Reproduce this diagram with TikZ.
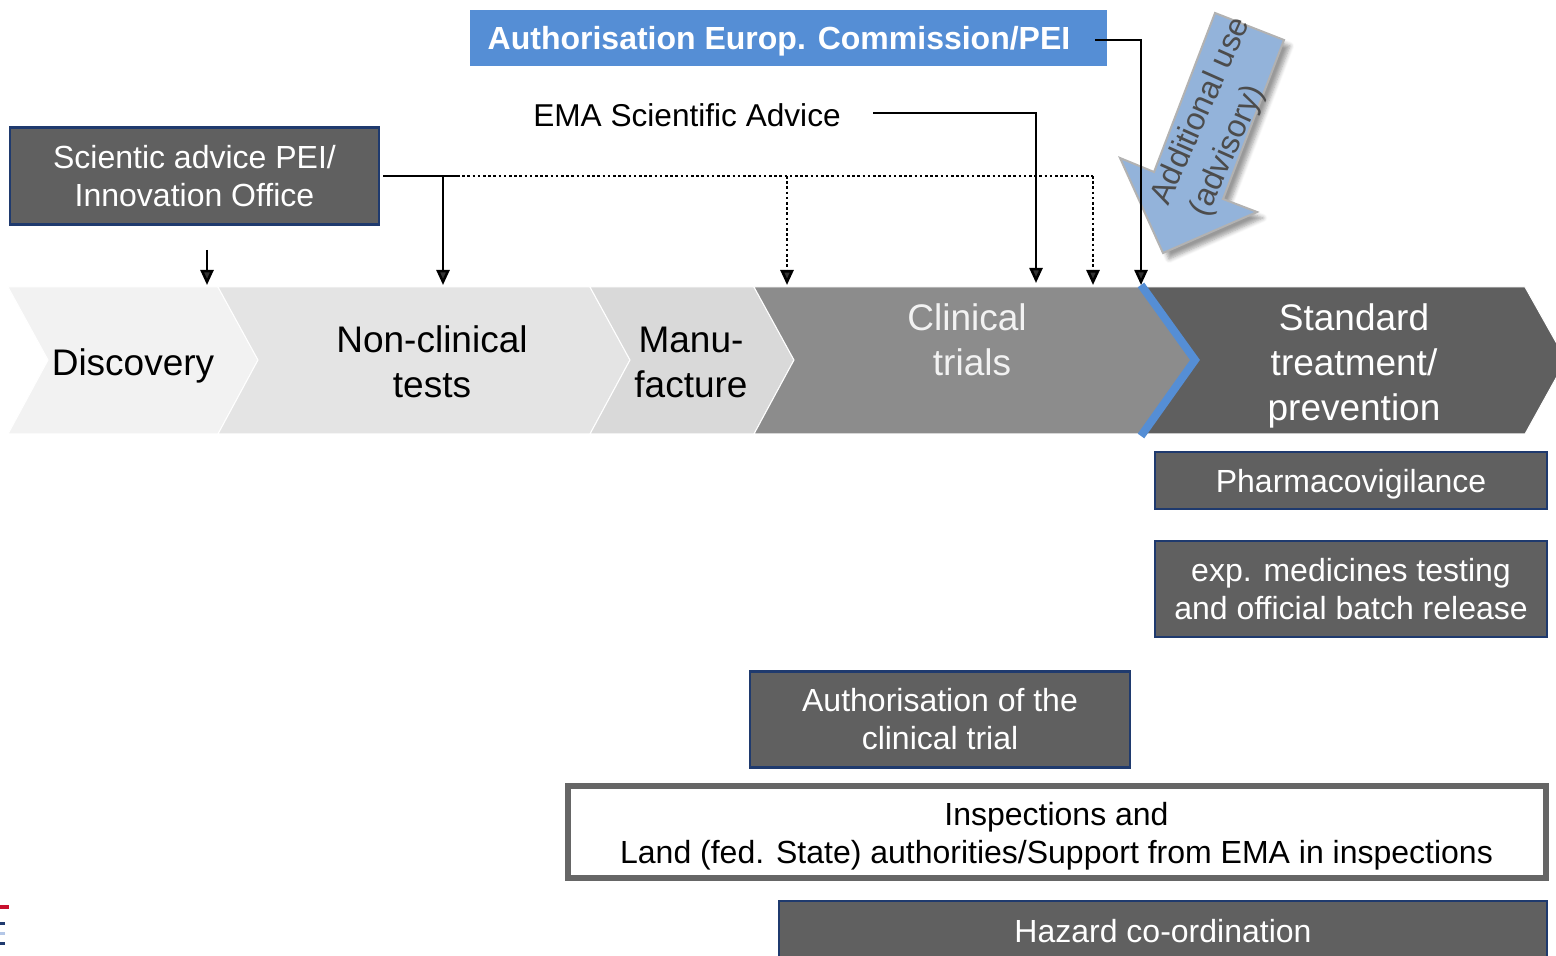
\documentclass[tikz,border=0pt]{standalone}
\usepackage{fontspec}
\setmainfont{Liberation Sans}
\usetikzlibrary{arrows.meta,shadows.blur}
\definecolor{navy}{HTML}{1F3A6E}
\definecolor{boxgray}{HTML}{606060}
\definecolor{authblue}{HTML}{558ED5}
\definecolor{arrowblue}{HTML}{93B3DA}
\definecolor{cDisc}{HTML}{F2F2F2}
\definecolor{cNon}{HTML}{E4E4E4}
\definecolor{cManu}{HTML}{D9D9D9}
\definecolor{cClin}{HTML}{8C8C8C}
\definecolor{cStd}{HTML}{5F5F5F}
\definecolor{logored}{HTML}{C8102E}
\definecolor{logoblue}{HTML}{1F3A6E}
\definecolor{logolight}{HTML}{B4C7E7}
\begin{document}
\begin{tikzpicture}[x=0.5pt,y=-0.5pt,
  darkbox/.style={draw=navy, line width=1.25pt, fill=boxgray, text=white, align=center,
    font=\fontsize{16}{19}\selectfont, inner sep=0pt},
  chev/.style={draw=white, line width=0.5pt},
  chevtxt/.style={align=center, font=\fontsize{18.5}{22.5}\selectfont, inner sep=0pt},
  advtxt/.style={rotate=66, anchor=base west, text=black!70, font=\fontsize{16}{19}\selectfont, inner sep=0pt},
  conn/.style={line width=1.25pt, -{Triangle[width=6.5pt,length=7.5pt]}},
  plain/.style={line width=1.25pt},
  dots/.style={line width=1.3pt, dash pattern=on 1.3pt off 1.3pt},
  dotsarrow/.style={dots, -{Triangle[width=6.5pt,length=7.5pt]}}
]
\useasboundingbox (0,0) rectangle (1556,956);
\clip (0,0) rectangle (1556,956);

% chevrons
\fill[cDisc,chev] (8,287) -- (218,287) -- (258,360) -- (218,434) -- (8,434) -- (48,360) -- cycle;
\fill[cNon,chev] (218,287) -- (590,287) -- (630,360) -- (590,434) -- (218,434) -- (258,360) -- cycle;
\fill[cManu,chev] (590,287) -- (754,287) -- (794,360) -- (754,434) -- (590,434) -- (630,360) -- cycle;
\fill[cClin,chev] (754,287) -- (1143,287) -- (1195,360) -- (1143,434) -- (754,434) -- (794,360) -- cycle;
\fill[cStd,chev] (1143,287) -- (1525,287) -- (1566,360) -- (1525,434) -- (1143,434) -- (1195,360) -- cycle;
\draw[authblue, line width=4pt] (1141,285) -- (1195,360) -- (1141,436);

\node[chevtxt, text depth=0pt] (disc) at (133,362) {Discovery};
\node[chevtxt] (nonclin) at (432,362) {Non-clinical\\tests};
\node[chevtxt] (manu) at (691,362) {Manu-\\facture};
\node[chevtxt, text=cDisc] (clin) at (967,340) {Clinical\\\hspace*{5pt}trials};
\node[chevtxt, text=white] (std) at (1354,366) {Standard\\treatment/\\prevention};

% boxes
\node[darkbox, minimum width=184.5pt, minimum height=48.5pt] (sci) at (194.5,176) {Scientic advice PEI/\\Innovation Office};
\node[darkbox, text depth=0pt, minimum width=196pt, minimum height=28.5pt] (pv) at (1351,480.5) {Pharmacovigilance};
\node[darkbox, minimum width=196pt, minimum height=48pt] (exp) at (1351,589) {exp. medicines testing\\and official batch release};
\node[darkbox, minimum width=190pt, minimum height=48pt] (act) at (940,719.5) {Authorisation of the\\clinical trial};
\node[draw=black!60, line width=3pt, fill=white, inner sep=0pt,
  minimum width=489pt, minimum height=46pt] (insp) at (1056.5,832) {};
\node[align=center, inner sep=0pt, font=\fontsize{16}{19}\selectfont] (insptxt) at (1056.5,836)
  {Inspections and\\Land (fed. State) authorities/Support from EMA in inspections};
\node[darkbox, minimum width=384pt, minimum height=30pt] (haz) at (1163,931) {Hazard co-ordination};

% top authorisation box
\node[fill=authblue, minimum width=318.5pt, minimum height=28pt, inner sep=0pt] (authbox) at (788.5,38) {};
\node[text=white, font=\bfseries\fontsize{16}{19}\selectfont, inner sep=0pt] (authtxt) at (779,41) {Authorisation Europ. Commission/PEI};

\node[font=\fontsize{15.8}{19}\selectfont, inner sep=0pt] (ema) at (687,115) {EMA Scientific Advice};

% big advisory arrow
\filldraw[fill=arrowblue, draw=black!30, line width=1pt,
  blur shadow={shadow xshift=3pt, shadow yshift=-3pt, shadow blur steps=6, shadow opacity=40}]
  (1215,13) -- (1284,40) -- (1223,199) -- (1257,212) -- (1163,253) -- (1120,158) -- (1154,172) -- cycle;
\node[advtxt] (adv1) at (1168,207) {Additional use};
\node[advtxt] (adv2) at (1207,219) {(advisory)};

% connectors
\coordinate (sciR) at (383,176);
\coordinate (split) at (443,176);
\coordinate (dotS) at (457,176);
\coordinate (dotM) at (787,176);
\coordinate (dotE) at (1093,176);
\coordinate (nonTop) at (443,285);
\coordinate (manuTop) at (787,285);
\coordinate (clinTop2) at (1093,285);
\coordinate (discA) at (207,250);
\coordinate (discTop) at (207,285);
\coordinate (emaR) at (873,113);
\coordinate (emaC) at (1036,113);
\coordinate (clinTop1) at (1036,283);
\coordinate (authR) at (1095,40);
\coordinate (authC) at (1141,40);
\coordinate (stdTop) at (1141,285);

\draw[plain] (sciR) -- (dotS);
\draw[conn] (split) -- (nonTop);
\draw[dots] (dotS) -- (dotE);
\draw[dotsarrow] (dotM) -- (manuTop);
\draw[dotsarrow] (dotE) -- (clinTop2);
\draw[conn] (discA) -- (discTop);
\draw[conn] (emaR) -- (emaC) -- (clinTop1);
\draw[conn] (authR) -- (authC) -- (stdTop);

% logo fragment
\fill[logored] (0,905) rectangle (9,909);
\fill[logoblue] (0,922) rectangle (5,925);
\fill[logolight] (0,932) rectangle (5,935);
\fill[logoblue] (0,942) rectangle (5,945);
\end{tikzpicture}
\end{document}
